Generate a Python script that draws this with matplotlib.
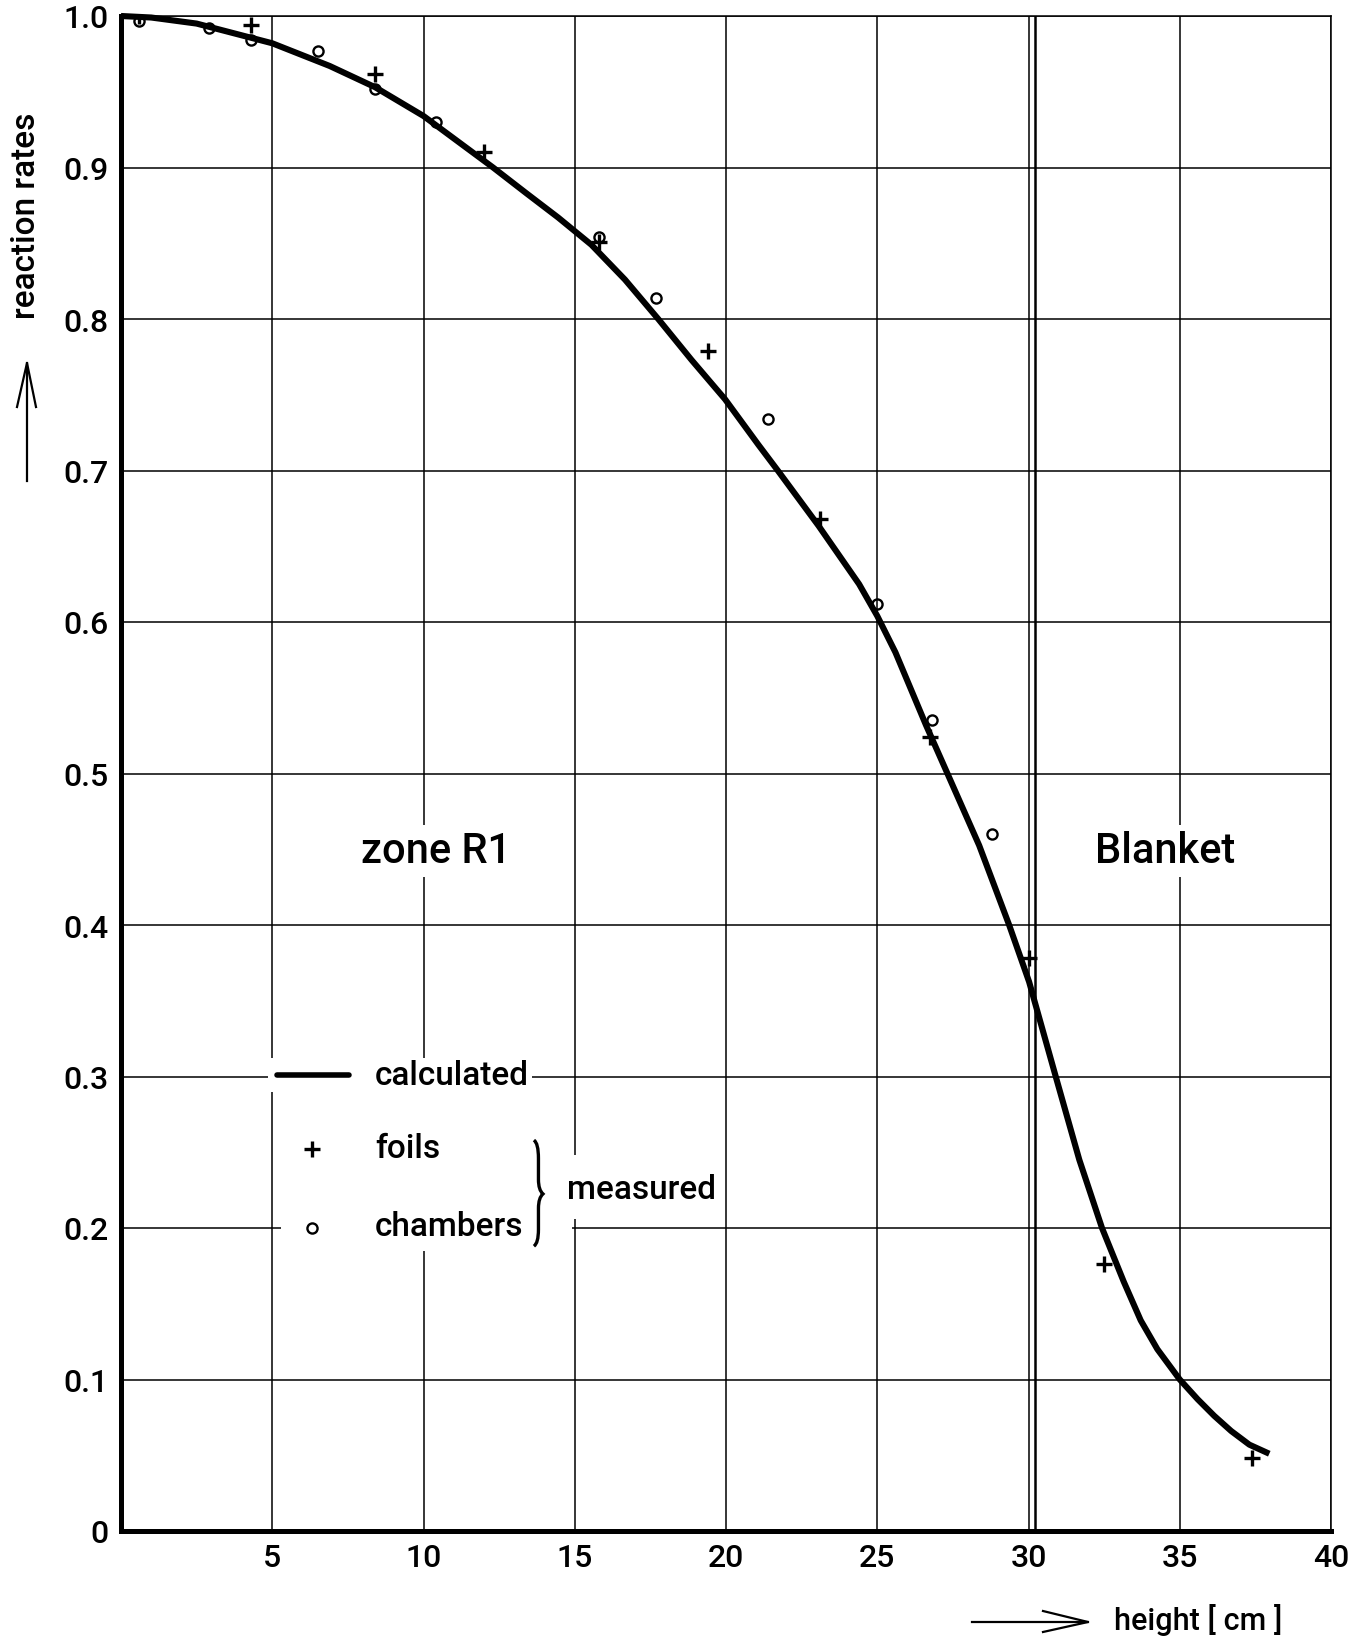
import matplotlib
matplotlib.use("Agg")
import matplotlib.pyplot as plt
from matplotlib.lines import Line2D
from matplotlib.patches import Rectangle, PathPatch
from matplotlib.path import Path

plt.rcParams["font.family"] = ["Roboto", "DejaVu Sans"]
plt.rcParams["font.weight"] = "medium"

# calculated reaction-rate profile along the height
calc_x = [0, 1.0, 2.5, 5.0, 6.9, 8.4, 10.0, 12.3, 13.4, 14.45, 15.55, 16.66, 17.76, 18.86,
          19.97, 21.07, 21.73, 23.06, 24.4, 25.0, 25.6, 26.61, 27.32, 28.37, 29.36, 30.02,
          30.9, 31.68, 32.43, 33.15, 33.71, 34.26, 35.0, 35.59, 36.14, 36.7, 37.3, 37.96]
calc_y = [1.0, 0.999, 0.995, 0.982, 0.967, 0.953, 0.934, 0.900, 0.883, 0.867, 0.849, 0.826,
          0.800, 0.773, 0.747, 0.717, 0.6995, 0.6635, 0.625, 0.604, 0.580, 0.532, 0.500,
          0.4525, 0.400, 0.3625, 0.300, 0.245, 0.200, 0.1645, 0.139, 0.120, 0.100, 0.087,
          0.076, 0.066, 0.057, 0.051]

# measured: activation foils
foil_x = [0.6, 4.3, 8.4, 12.0, 15.8, 19.4, 23.1, 26.75, 30.0, 32.5, 37.4]
foil_y = [1.0, 0.994, 0.962, 0.910, 0.851, 0.779, 0.668, 0.524, 0.378, 0.176, 0.048]

# measured: fission chambers
cham_x = [0.6, 2.9, 4.3, 6.5, 8.4, 10.4, 15.8, 17.7, 21.4, 25.0, 26.8, 28.8]
cham_y = [0.997, 0.992, 0.984, 0.977, 0.952, 0.930, 0.854, 0.814, 0.734, 0.612, 0.535, 0.460]

x_ticks = [5, 10, 15, 20, 25, 30, 35, 40]
y_ticks = [0, 0.1, 0.2, 0.3, 0.4, 0.5, 0.6, 0.7, 0.8, 0.9, 1.0]
y_ticklabels = ["0", "0.1", "0.2", "0.3", "0.4", "0.5", "0.6", "0.7", "0.8", "0.9", "1.0"]
zone_boundary = 30.22

W, H = 1365, 1640
fig = plt.figure(figsize=(W / 100, H / 100), dpi=100)
fig.patch.set_facecolor("white")
ax = fig.add_axes([121 / W, 1 - 1532 / H, 1210 / W, 1515 / H])

def fx(px):
    return px / W

def fy(py):
    return 1 - py / H

ax.set_xlim(0, 40)
ax.set_ylim(0, 1.0)
ax.set_xticks(x_ticks)
ax.set_yticks(y_ticks)
ax.set_yticklabels(y_ticklabels)
ax.tick_params(length=0, labelsize=23, pad=9)
ax.set_axisbelow(True)
ax.grid(True, color="black", lw=1.1)
for s in ["left", "bottom"]:
    ax.spines[s].set_linewidth(3.6)
for s in ["top", "right"]:
    ax.spines[s].set_linewidth(1.1)

# zone / blanket interface (double line)
ax.axvline(zone_boundary, color="black", lw=1.8, zorder=2)

ax.plot(calc_x, calc_y, color="black", lw=4.4, solid_capstyle="butt", solid_joinstyle="round",
        zorder=3, clip_on=False)
ax.plot(foil_x, foil_y, ls="none", marker="+", ms=11, mew=2.4, color="black", zorder=4)
ax.plot(cham_x, cham_y, ls="none", marker="o", ms=7.3, mew=1.7, mfc="none", mec="black", zorder=4)

ax.text(10.4, 0.449, "zone R1", fontsize=30, ha="center", va="center", zorder=5,
        bbox=dict(facecolor="white", edgecolor="none", pad=4))
ax.text(34.5, 0.449, "Blanket", fontsize=30, ha="center", va="center", zorder=5,
        bbox=dict(facecolor="white", edgecolor="none", pad=4))

# legend block, grid blanked out behind it
ax.add_patch(Rectangle((4.85, 0.29), 8.75, 0.022, facecolor="white", edgecolor="none", zorder=1))
ax.add_patch(Rectangle((5.3, 0.185), 9.6, 0.105, facecolor="white", edgecolor="none", zorder=1))
ax.add_patch(Rectangle((14.9, 0.206), 4.9, 0.042, facecolor="white", edgecolor="none", zorder=1))

ax.plot([5.15, 7.55], [0.301, 0.301], color="black", lw=4.0, solid_capstyle="round", zorder=4)
ax.plot([6.3], [0.252], ls="none", marker="+", ms=11, mew=2.4, color="black", zorder=4)
ax.plot([6.3], [0.200], ls="none", marker="o", ms=7.3, mew=1.7, mfc="none", mec="black", zorder=4)
ax.text(8.4, 0.301, "calculated", fontsize=24, va="center", zorder=5)
ax.text(8.4, 0.253, "foils", fontsize=24, va="center", zorder=5)
ax.text(8.4, 0.201, "chambers", fontsize=24, va="center", zorder=5)
ax.text(14.75, 0.226, "measured", fontsize=24, va="center", zorder=5)

bx, tip, mid = 13.65, 13.95, 0.2225
brace = Path(
    [(bx, 0.258), (13.8, 0.256), (13.8, 0.246),
     (13.8, 0.232), (13.8, 0.225), (tip, mid),
     (13.8, 0.220), (13.8, 0.213), (13.8, 0.199),
     (13.8, 0.190), (bx, 0.188)],
    [Path.MOVETO, Path.CURVE3, Path.CURVE3,
     Path.LINETO, Path.CURVE3, Path.CURVE3,
     Path.CURVE3, Path.CURVE3, Path.LINETO,
     Path.CURVE3, Path.CURVE3])
ax.add_patch(PathPatch(brace, facecolor="none", edgecolor="black", lw=2.4, zorder=5))

# axis captions with drawn arrows
fig.text(fx(26), fy(216), "reaction rates", rotation=90, fontsize=24, ha="center", va="center")
fig.add_artist(Line2D([fx(27), fx(27)], [fy(482), fy(364)], color="black", lw=1.6, transform=fig.transFigure))
fig.add_artist(Line2D([fx(17), fx(27), fx(36)], [fy(408), fy(364), fy(408)], color="black", lw=1.6,
                      transform=fig.transFigure))

fig.text(fx(1114), fy(1620), "height [ cm ]", fontsize=22, ha="left", va="center")
fig.add_artist(Line2D([fx(972), fx(1088)], [fy(1623), fy(1623)], color="black", lw=1.6, transform=fig.transFigure))
fig.add_artist(Line2D([fx(1043), fx(1088), fx(1043)], [fy(1612), fy(1623), fy(1633)], color="black", lw=1.6,
                      transform=fig.transFigure))

fig.savefig("out.png", dpi=100, facecolor="white")
